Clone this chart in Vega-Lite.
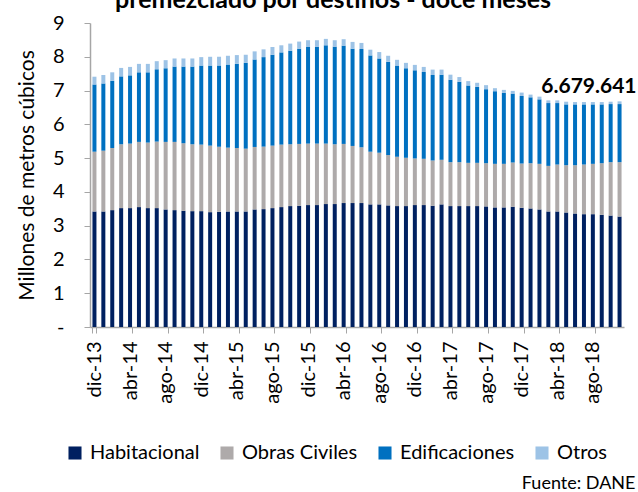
{
  "$schema": "https://vega.github.io/schema/vega-lite/v6.json",
  "width": 534,
  "height": 304,
  "autosize": {"type": "none"},
  "padding": {"left": 90, "top": 23, "right": 14, "bottom": 165},
  "background": "white",
  "config": {"font": "Lato", "view": {"stroke": null}},
  "title": {"text": "premezclado por destinos - doce meses", "font": "Lato", "fontSize": 25, "fontWeight": "bold", "color": "#000000", "anchor": "middle", "dx": -24, "dy": 4},
  "datasets": {
    "orden_destinos": [
      {"destino": "Habitacional", "orden": 1},
      {"destino": "Obras Civiles", "orden": 2},
      {"destino": "Edificaciones", "orden": 3},
      {"destino": "Otros", "orden": 4}
    ]
  },
  "encoding": {
    "x": {
      "field": "mes", "type": "ordinal", "sort": null,
      "scale": {"paddingInner": 0.55, "paddingOuter": 0.275},
      "axis": {
        "values": ["dic-13", "abr-14", "ago-14", "dic-14", "abr-15", "ago-15", "dic-15", "abr-16", "ago-16", "dic-16", "abr-17", "ago-17", "dic-17", "abr-18", "ago-18"],
        "labelAngle": -90, "labelAlign": "right", "labelBaseline": "middle", "labelOverlap": false,
        "labelFontSize": 20, "labelColor": "#000000", "labelPadding": 8,
        "tickBand": "extent", "tickSize": 6, "tickColor": "#a6a6a6",
        "domainColor": "#a6a6a6", "domainWidth": 1.5,
        "title": "Fuente: DANE", "titleFontSize": 18, "titleFontWeight": "normal", "titleColor": "#000000",
        "titleAnchor": "end", "titleAlign": "right", "titleBaseline": "alphabetic",
        "titleX": 545, "titleY": 161
      }
    },
    "y": {
      "field": "valor", "type": "quantitative",
      "scale": {"domain": [0, 9], "nice": false},
      "axis": {
        "values": [0, 1, 2, 3, 4, 5, 6, 7, 8, 9],
        "labelExpr": "datum.value == 0 ? '-' : datum.label",
        "labelOverlap": false,
        "labelFontSize": 20, "labelColor": "#000000", "labelPadding": 20,
        "tickSize": 6, "tickColor": "#a6a6a6", "domainColor": "#a6a6a6", "domainWidth": 1.5,
        "grid": false,
        "title": "Millones de metros cúbicos", "titleFontSize": 21, "titleFontWeight": "normal", "titleColor": "#000000", "titlePadding": 15
      }
    }
  },
  "layer": [
    {
      "data": {"values": [
        {"mes": "dic-13", "Habitacional": 3.42, "Obras Civiles": 1.77, "Edificaciones": 1.99, "Otros": 0.23},
        {"mes": "ene-14", "Habitacional": 3.42, "Obras Civiles": 1.80, "Edificaciones": 1.99, "Otros": 0.25},
        {"mes": "feb-14", "Habitacional": 3.46, "Obras Civiles": 1.84, "Edificaciones": 1.99, "Otros": 0.25},
        {"mes": "mar-14", "Habitacional": 3.52, "Obras Civiles": 1.89, "Edificaciones": 2.01, "Otros": 0.25},
        {"mes": "abr-14", "Habitacional": 3.52, "Obras Civiles": 1.91, "Edificaciones": 2.02, "Otros": 0.25},
        {"mes": "may-14", "Habitacional": 3.55, "Obras Civiles": 1.93, "Edificaciones": 2.06, "Otros": 0.25},
        {"mes": "jun-14", "Habitacional": 3.52, "Obras Civiles": 1.94, "Edificaciones": 2.08, "Otros": 0.25},
        {"mes": "jul-14", "Habitacional": 3.52, "Obras Civiles": 1.97, "Edificaciones": 2.14, "Otros": 0.24},
        {"mes": "ago-14", "Habitacional": 3.48, "Obras Civiles": 2.00, "Edificaciones": 2.18, "Otros": 0.24},
        {"mes": "sep-14", "Habitacional": 3.46, "Obras Civiles": 2.02, "Edificaciones": 2.23, "Otros": 0.24},
        {"mes": "oct-14", "Habitacional": 3.44, "Obras Civiles": 2.00, "Edificaciones": 2.27, "Otros": 0.24},
        {"mes": "nov-14", "Habitacional": 3.43, "Obras Civiles": 1.98, "Edificaciones": 2.30, "Otros": 0.24},
        {"mes": "dic-14", "Habitacional": 3.43, "Obras Civiles": 1.97, "Edificaciones": 2.34, "Otros": 0.25},
        {"mes": "ene-15", "Habitacional": 3.40, "Obras Civiles": 1.97, "Edificaciones": 2.37, "Otros": 0.26},
        {"mes": "feb-15", "Habitacional": 3.41, "Obras Civiles": 1.93, "Edificaciones": 2.40, "Otros": 0.26},
        {"mes": "mar-15", "Habitacional": 3.42, "Obras Civiles": 1.89, "Edificaciones": 2.46, "Otros": 0.26},
        {"mes": "abr-15", "Habitacional": 3.42, "Obras Civiles": 1.88, "Edificaciones": 2.49, "Otros": 0.26},
        {"mes": "may-15", "Habitacional": 3.42, "Obras Civiles": 1.86, "Edificaciones": 2.54, "Otros": 0.24},
        {"mes": "jun-15", "Habitacional": 3.48, "Obras Civiles": 1.85, "Edificaciones": 2.59, "Otros": 0.24},
        {"mes": "jul-15", "Habitacional": 3.49, "Obras Civiles": 1.85, "Edificaciones": 2.65, "Otros": 0.23},
        {"mes": "ago-15", "Habitacional": 3.52, "Obras Civiles": 1.85, "Edificaciones": 2.69, "Otros": 0.23},
        {"mes": "sep-15", "Habitacional": 3.55, "Obras Civiles": 1.85, "Edificaciones": 2.73, "Otros": 0.21},
        {"mes": "oct-15", "Habitacional": 3.58, "Obras Civiles": 1.83, "Edificaciones": 2.77, "Otros": 0.21},
        {"mes": "nov-15", "Habitacional": 3.59, "Obras Civiles": 1.83, "Edificaciones": 2.82, "Otros": 0.21},
        {"mes": "dic-15", "Habitacional": 3.61, "Obras Civiles": 1.82, "Edificaciones": 2.86, "Otros": 0.20},
        {"mes": "ene-16", "Habitacional": 3.61, "Obras Civiles": 1.82, "Edificaciones": 2.87, "Otros": 0.19},
        {"mes": "feb-16", "Habitacional": 3.64, "Obras Civiles": 1.79, "Edificaciones": 2.91, "Otros": 0.19},
        {"mes": "mar-16", "Habitacional": 3.64, "Obras Civiles": 1.77, "Edificaciones": 2.89, "Otros": 0.19},
        {"mes": "abr-16", "Habitacional": 3.67, "Obras Civiles": 1.75, "Edificaciones": 2.91, "Otros": 0.19},
        {"mes": "may-16", "Habitacional": 3.67, "Obras Civiles": 1.69, "Edificaciones": 2.88, "Otros": 0.20},
        {"mes": "jun-16", "Habitacional": 3.67, "Obras Civiles": 1.65, "Edificaciones": 2.91, "Otros": 0.18},
        {"mes": "jul-16", "Habitacional": 3.63, "Obras Civiles": 1.56, "Edificaciones": 2.85, "Otros": 0.17},
        {"mes": "ago-16", "Habitacional": 3.63, "Obras Civiles": 1.53, "Edificaciones": 2.79, "Otros": 0.19},
        {"mes": "sep-16", "Habitacional": 3.60, "Obras Civiles": 1.49, "Edificaciones": 2.76, "Otros": 0.18},
        {"mes": "oct-16", "Habitacional": 3.58, "Obras Civiles": 1.46, "Edificaciones": 2.70, "Otros": 0.17},
        {"mes": "nov-16", "Habitacional": 3.58, "Obras Civiles": 1.43, "Edificaciones": 2.65, "Otros": 0.16},
        {"mes": "dic-16", "Habitacional": 3.61, "Obras Civiles": 1.38, "Edificaciones": 2.61, "Otros": 0.16},
        {"mes": "ene-17", "Habitacional": 3.61, "Obras Civiles": 1.37, "Edificaciones": 2.57, "Otros": 0.15},
        {"mes": "feb-17", "Habitacional": 3.59, "Obras Civiles": 1.34, "Edificaciones": 2.53, "Otros": 0.16},
        {"mes": "mar-17", "Habitacional": 3.63, "Obras Civiles": 1.32, "Edificaciones": 2.52, "Otros": 0.15},
        {"mes": "abr-17", "Habitacional": 3.58, "Obras Civiles": 1.30, "Edificaciones": 2.44, "Otros": 0.15},
        {"mes": "may-17", "Habitacional": 3.58, "Obras Civiles": 1.30, "Edificaciones": 2.38, "Otros": 0.14},
        {"mes": "jun-17", "Habitacional": 3.58, "Obras Civiles": 1.28, "Edificaciones": 2.29, "Otros": 0.13},
        {"mes": "jul-17", "Habitacional": 3.58, "Obras Civiles": 1.28, "Edificaciones": 2.25, "Otros": 0.12},
        {"mes": "ago-17", "Habitacional": 3.57, "Obras Civiles": 1.28, "Edificaciones": 2.19, "Otros": 0.12},
        {"mes": "sep-17", "Habitacional": 3.54, "Obras Civiles": 1.29, "Edificaciones": 2.15, "Otros": 0.09},
        {"mes": "oct-17", "Habitacional": 3.54, "Obras Civiles": 1.29, "Edificaciones": 2.10, "Otros": 0.09},
        {"mes": "nov-17", "Habitacional": 3.56, "Obras Civiles": 1.31, "Edificaciones": 2.04, "Otros": 0.08},
        {"mes": "dic-17", "Habitacional": 3.53, "Obras Civiles": 1.31, "Edificaciones": 2.00, "Otros": 0.10},
        {"mes": "ene-18", "Habitacional": 3.51, "Obras Civiles": 1.34, "Edificaciones": 1.95, "Otros": 0.08},
        {"mes": "feb-18", "Habitacional": 3.48, "Obras Civiles": 1.35, "Edificaciones": 1.91, "Otros": 0.08},
        {"mes": "mar-18", "Habitacional": 3.42, "Obras Civiles": 1.35, "Edificaciones": 1.86, "Otros": 0.08},
        {"mes": "abr-18", "Habitacional": 3.42, "Obras Civiles": 1.39, "Edificaciones": 1.82, "Otros": 0.08},
        {"mes": "may-18", "Habitacional": 3.39, "Obras Civiles": 1.40, "Edificaciones": 1.80, "Otros": 0.08},
        {"mes": "jun-18", "Habitacional": 3.36, "Obras Civiles": 1.43, "Edificaciones": 1.80, "Otros": 0.07},
        {"mes": "jul-18", "Habitacional": 3.34, "Obras Civiles": 1.47, "Edificaciones": 1.78, "Otros": 0.07},
        {"mes": "ago-18", "Habitacional": 3.34, "Obras Civiles": 1.49, "Edificaciones": 1.76, "Otros": 0.07},
        {"mes": "sep-18", "Habitacional": 3.32, "Obras Civiles": 1.53, "Edificaciones": 1.74, "Otros": 0.07},
        {"mes": "oct-18", "Habitacional": 3.30, "Obras Civiles": 1.58, "Edificaciones": 1.72, "Otros": 0.07},
        {"mes": "nov-18", "Habitacional": 3.27, "Obras Civiles": 1.61, "Edificaciones": 1.72, "Otros": 0.08}
      ]},
      "transform": [
        {"fold": ["Habitacional", "Obras Civiles", "Edificaciones", "Otros"], "as": ["destino", "valor"]},
        {"lookup": "destino", "from": {"data": {"name": "orden_destinos"}, "key": "destino", "fields": ["orden"]}}
      ],
      "mark": {"type": "bar"},
      "encoding": {
        "y": {"field": "valor", "type": "quantitative", "stack": "zero"},
        "color": {
          "field": "destino", "type": "nominal",
          "scale": {"domain": ["Habitacional", "Obras Civiles", "Edificaciones", "Otros"], "range": ["#002060", "#AEAAAA", "#0070C0", "#9DC3E6"]},
          "legend": {
            "orient": "none", "legendX": -25, "legendY": 420, "direction": "horizontal", "columns": 4,
            "title": null, "symbolType": "square", "symbolSize": 170, "symbolStrokeWidth": 0,
            "labelFontSize": 20, "labelColor": "#000000", "labelOffset": 5, "columnPadding": 17
          }
        },
        "order": {"field": "orden", "type": "quantitative", "sort": "ascending"}
      }
    },
    {
      "data": {"values": [{"mes": "nov-18", "valor": 6.679641, "etiqueta": "6.679.641"}]},
      "mark": {"type": "text", "align": "right", "baseline": "alphabetic", "dx": 17, "dy": -8, "fontSize": 21, "fontWeight": "bold", "color": "#000000"},
      "encoding": {
        "text": {"field": "etiqueta"}
      }
    }
  ]
}
